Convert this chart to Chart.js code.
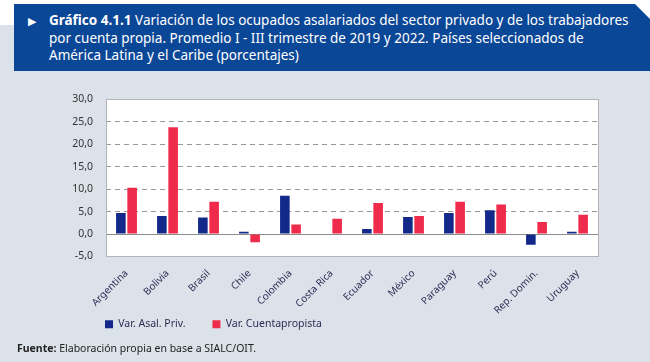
<!DOCTYPE html>
<html lang="es">
<head>
    <meta charset="UTF-8">
    <title>Gráfico 4.1.1</title>
    <script src="https://cdn.jsdelivr.net/npm/chart.js"></script>
    <style>
        body {
            margin: 0;
            width: 650px;
            height: 362px;
            background: #fff;
            font-family: "Noto Sans", sans-serif;
            position: relative;
            overflow: hidden;
        }
        #fondo {
            position: absolute;
            left: 0;
            top: 25px;
            width: 650px;
            height: 337px;
            background: #dbe2ea;
        }
        #titulo {
            position: absolute;
            left: 14px;
            top: 4px;
            width: 636px;
            height: 67px;
            background: #0b4797;
            clip-path: polygon(0 0, 621px 0, 636px 15px, 636px 67px, 0 67px);
            color: #fff;
            font-size: 13.5px;
            line-height: 17.5px;
        }
        #titulo .flecha {
            position: absolute;
            left: 14px;
            top: 8px;
            font-size: 11px;
        }
        #titulo .texto {
            position: absolute;
            left: 35px;
            top: 8px;
            white-space: nowrap;
        }
        #grafico {
            position: absolute;
            left: 0;
            top: 80px;
            width: 650px;
            height: 290px;
        }
        #fuente {
            position: absolute;
            left: 17px;
            top: 341px;
            font-size: 10.5px;
            line-height: 15px;
            color: #222;
        }
    </style>
</head>
<body>
    <div id="fondo"></div>
    <div id="titulo">
        <span class="flecha">&#9654;</span>
        <div class="texto"><b>Gráfico 4.1.1</b> Variación de los ocupados asalariados del sector privado y de los trabajadores<br>por cuenta propia. Promedio I - III trimestre de 2019 y 2022. Países seleccionados de<br>América Latina y el Caribe (porcentajes)</div>
    </div>
    <div id="grafico"><canvas id="chartCanvas"></canvas></div>
    <div id="fuente"><b>Fuente:</b> Elaboración propia en base a SIALC/OIT.</div>

    <script>
        const paises = ['Argentina', 'Bolivia', 'Brasil', 'Chile', 'Colombia', 'Costa Rica',
            'Ecuador', 'México', 'Paraguay', 'Perú', 'Rep. Domin.', 'Uruguay'];
        const varAsalPriv = [4.7, 4.0, 3.7, 0.5, 8.5, 0.1, 1.1, 3.8, 4.7, 5.3, -2.4, 0.5];
        const varCuentapropista = [10.3, 23.8, 7.2, -1.8, 2.1, 3.4, 6.9, 4.0, 7.2, 6.6, 2.7, 4.3];
        const ticksY = { min: -5, max: 30, paso: 5 };

        // fondo blanco del área, marco y línea del cero
        const marcoPlugin = {
            id: 'marco',
            afterLayout(chart) {
                // la leyenda va debajo de las etiquetas giradas, alineada con el eje
                const lg = chart.legend;
                const h = lg.bottom - lg.top;
                lg.left = 78;
                lg.top = 212;
                lg.bottom = lg.top + h;
            },
            beforeDraw(chart) {
                const a = chart.chartArea;
                const ctx = chart.ctx;
                ctx.save();
                ctx.fillStyle = '#fff';
                ctx.fillRect(a.left, a.top, a.right - a.left, a.bottom - a.top);
                ctx.restore();
            },
            beforeDatasetsDraw(chart) {
                const a = chart.chartArea;
                const ctx = chart.ctx;
                const y0 = Math.round(chart.scales.y.getPixelForValue(0)) + 0.5;
                ctx.save();
                ctx.strokeStyle = '#8c8c8c';
                ctx.lineWidth = 1;
                ctx.beginPath();
                ctx.moveTo(a.left, y0);
                ctx.lineTo(a.right, y0);
                ctx.stroke();
                ctx.restore();
            },
            afterDraw(chart) {
                const a = chart.chartArea;
                const ctx = chart.ctx;
                ctx.save();
                ctx.strokeStyle = '#b4b4b4';
                ctx.lineWidth = 1;
                ctx.strokeRect(Math.round(a.left) + 0.5, Math.round(a.top) + 0.5,
                    Math.round(a.right - a.left), Math.round(a.bottom - a.top));
                ctx.restore();
            }
        };

        const ctx = document.getElementById('chartCanvas').getContext('2d');
        new Chart(ctx, {
            type: 'bar',
            data: {
                labels: paises,
                datasets: [{
                    label: 'Var. Asal. Priv.',
                    data: varAsalPriv,
                    backgroundColor: '#13298a',
                    categoryPercentage: 0.55,
                    barPercentage: 0.85
                }, {
                    label: 'Var. Cuentapropista',
                    data: varCuentapropista,
                    backgroundColor: '#ef2b4b',
                    categoryPercentage: 0.55,
                    barPercentage: 0.85
                }]
            },
            options: {
                responsive: true,
                maintainAspectRatio: false,
                animation: false,
                layout: {
                    padding: { left: 0, right: 52, top: 17, bottom: 6 }
                },
                plugins: {
                    legend: {
                        position: 'bottom',
                        align: 'start',
                        labels: {
                            boxWidth: 8,
                            boxHeight: 8,
                            padding: 27,
                            color: '#2e2e55',
                            font: { family: 'Noto Sans', size: 10.5 }
                        }
                    },
                    tooltip: { enabled: false }
                },
                scales: {
                    x: {
                        afterFit: scale => { scale.height = 60; },
                        grid: { display: false },
                        border: { display: false },
                        ticks: {
                            minRotation: 45,
                            maxRotation: 45,
                            autoSkip: false,
                            padding: 3,
                            color: '#2e2e55',
                            font: { family: 'Noto Sans', size: 10 }
                        }
                    },
                    y: {
                        min: ticksY.min,
                        max: ticksY.max,
                        afterFit: scale => { scale.width = 106; },
                        border: { display: false, dash: [5, 4] },
                        grid: {
                            drawTicks: false,
                            color: c => (c.tick.value > ticksY.min && c.tick.value < ticksY.max && c.tick.value !== 0) ? '#9a9a9a' : 'rgba(0,0,0,0)'
                        },
                        ticks: {
                            stepSize: ticksY.paso,
                            padding: 13,
                            color: '#333',
                            font: { family: 'Noto Sans', size: 10.5 },
                            callback: v => v.toFixed(1).replace('.', ',')
                        }
                    }
                }
            },
            plugins: [marcoPlugin]
        });
    </script>
</body>
</html>
